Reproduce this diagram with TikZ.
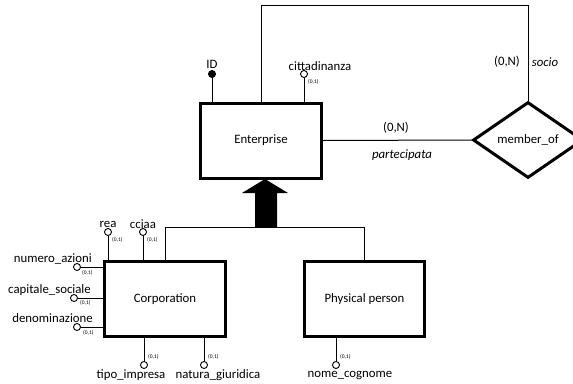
\documentclass[tikz,border=0pt]{standalone}
\usepackage{fontspec}
\setmainfont{Carlito}
\usetikzlibrary{shapes.geometric}
\begin{document}
\begin{tikzpicture}[x=1pt,y=-1pt,
  entity/.style={draw, line width=3pt, inner sep=0pt, minimum width=121pt, minimum height=75pt, font=\fontsize{12.8}{14}\selectfont},
  rel/.style={draw, diamond, line width=3pt, inner sep=0pt, minimum width=110pt, minimum height=76pt, font=\fontsize{12.8}{14}\selectfont},
  attr/.style={draw, circle, fill=white, line width=0.9pt, minimum size=7pt, inner sep=0pt},
  keyattr/.style={attr, fill=black},
  lab/.style={inner sep=0pt, font=\fontsize{12.8}{14}\selectfont},
  card/.style={inner sep=0pt, anchor=west, font=\fontsize{5.5}{6}\selectfont},
  link/.style={line width=1pt},
]
\useasboundingbox (0,0) rectangle (573,383);

% entities and relationship
\node[entity] (ent) at (261,140.5) {Enterprise};
\node[entity] (corp) at (165,299) {Corporation};
\node[entity, minimum width=120pt] (pp) at (364.5,299) {Physical person};
\node[rel] (mem) at (528,140) {member\_of};

% relationship links
\coordinate (topc) at (261,5);
\draw[link] (ent.north) |- (topc) -| (mem.north);
\draw[link] (ent.east) -- (mem.west);
\node[lab] at (507,62) {(0,N)};
\node[lab] at (545,62) {\itshape socio};
\node[lab] at (396,128) {(0,N)};
\node[lab] at (402,155) {\itshape partecipata};

% generalization
\coordinate (hier) at (165,227);
\draw[link] (corp.north) |- (hier) -| (pp.north);
\fill (265,179) -- (288,193) -- (277,193) -- (277,227.5) -- (255,227.5) -- (255,193) -- (242,193) -- cycle;

% Enterprise attributes
\node[keyattr] (id) at (212,74) {};
\draw[link] (id.south) -- (id.south |- ent.north);
\node[lab] at (212,64) {ID};
\node[attr] (citt) at (304,74) {};
\draw[link] (citt.south) -- (citt.south |- ent.north);
\node[lab] at (320,66) {cittadinanza};
\node[card] at (308,82) {(0,1)};

% Corporation attributes (top)
\node[attr] (rea) at (108,232) {};
\draw[link] (rea.south) -- (rea.south |- corp.north);
\node[lab] at (108,224) {rea};
\node[card] at (112,240) {(0,1)};
\node[attr] (cciaa) at (143,232) {};
\draw[link] (cciaa.south) -- (cciaa.south |- corp.north);
\node[lab] at (143,224) {cciaa};
\node[card] at (147,240) {(0,1)};

% Corporation attributes (left)
\node[attr] (numaz) at (77,267) {};
\draw[link] (numaz.east) -- (numaz.east -| corp.west);
\node[lab, anchor=east] at (92,259) {numero\_azioni};
\node[card] at (82,273) {(0,1)};
\node[attr] (capsoc) at (74,298) {};
\draw[link] (capsoc.east) -- (capsoc.east -| corp.west);
\node[lab, anchor=east] at (91,290) {capitale\_sociale};
\node[card] at (80,303) {(0,1)};
\node[attr] (denom) at (77,327) {};
\draw[link] (denom.east) -- (denom.east -| corp.west);
\node[lab, anchor=east] at (93,318) {denominazione};
\node[card] at (83,333) {(0,1)};

% Corporation attributes (bottom)
\node[attr] (tipo) at (144,365) {};
\draw[link] (tipo.north) -- (tipo.north |- corp.south);
\node[lab] at (131,375) {tipo\_impresa};
\node[card] at (148,357) {(0,1)};
\node[attr] (natura) at (204,365) {};
\draw[link] (natura.north) -- (natura.north |- corp.south);
\node[lab] at (218,375) {natura\_giuridica};
\node[card] at (208,357) {(0,1)};

% Physical person attribute
\node[attr] (nome) at (336,365) {};
\draw[link] (nome.north) -- (nome.north |- pp.south);
\node[lab] at (350,375) {nome\_cognome};
\node[card] at (340,357) {(0,1)};
\end{tikzpicture}
\end{document}
